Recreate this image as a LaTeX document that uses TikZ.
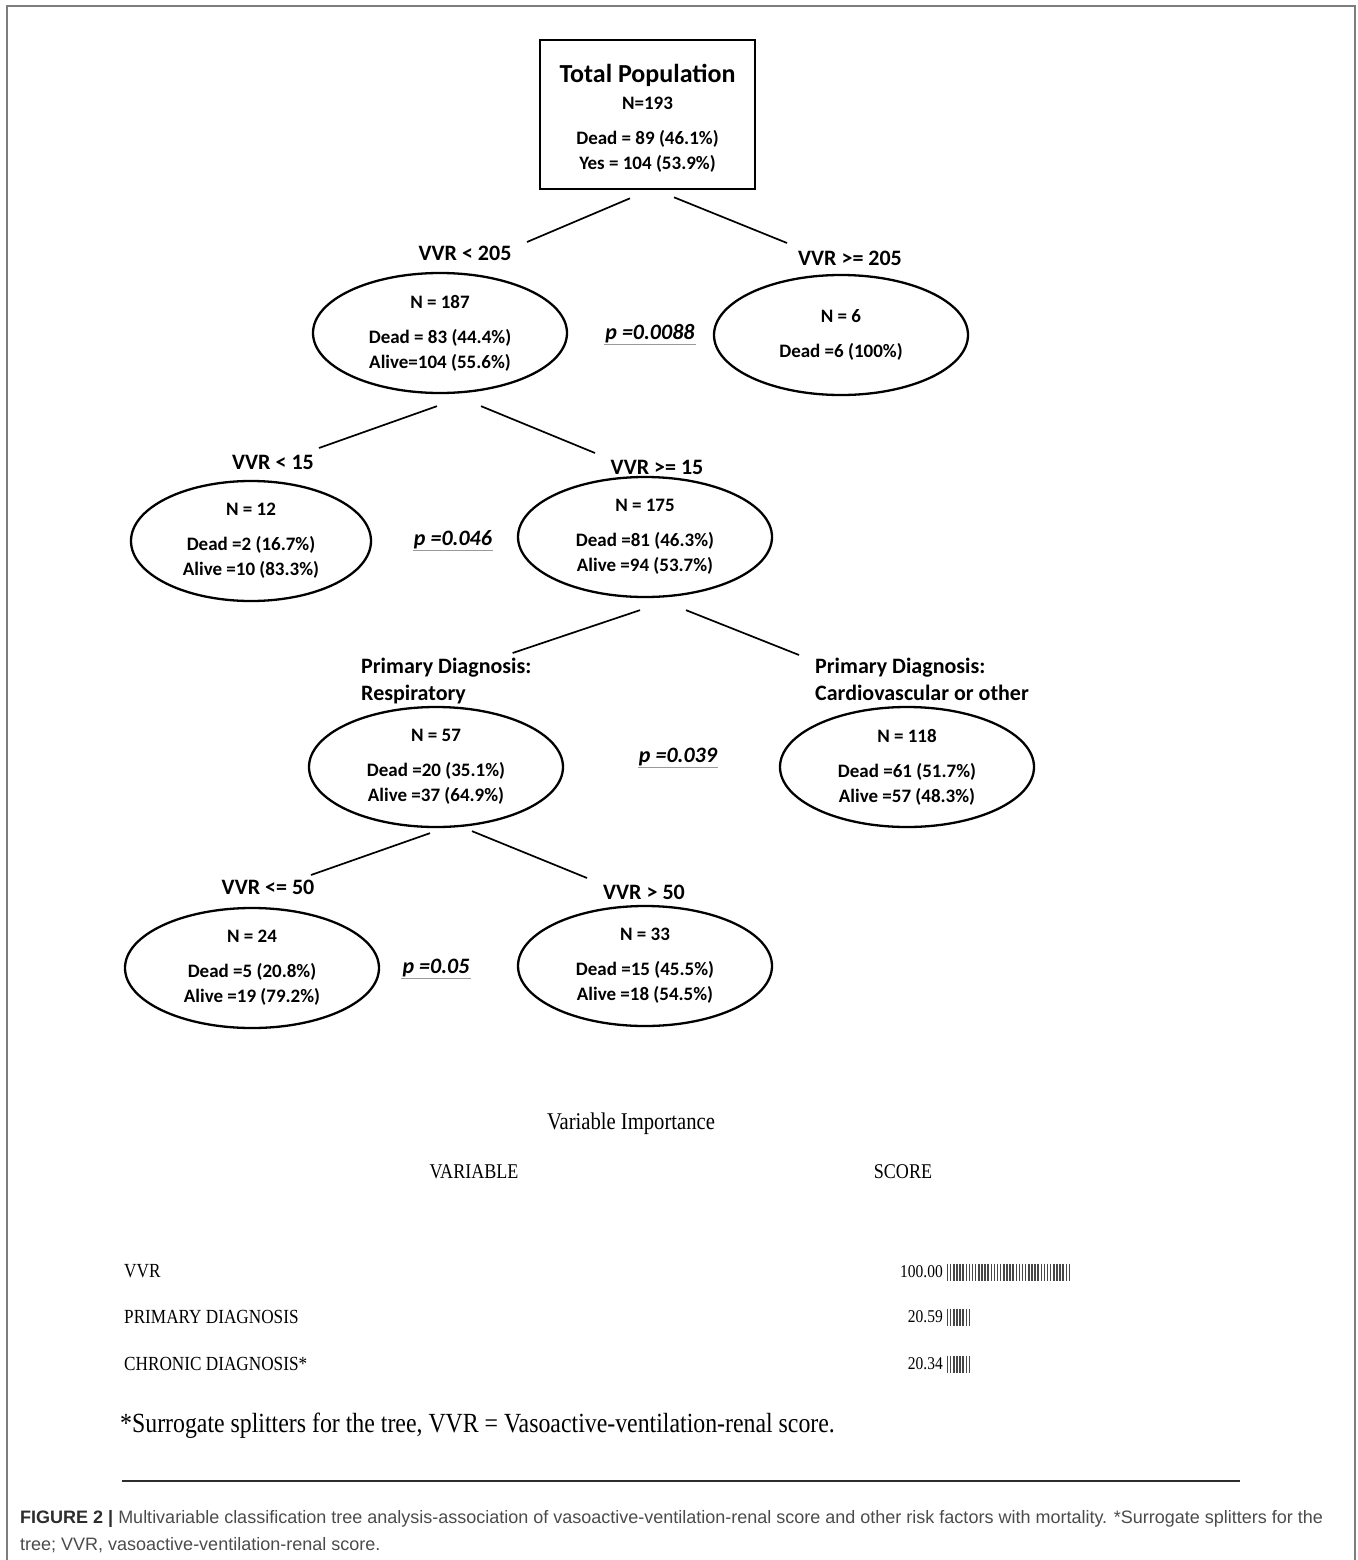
\documentclass[tikz,border=0pt]{standalone}
\usepackage{fontspec}
\usepackage{xcolor}
\definecolor{frame_gray}{RGB}{125,125,125}
\definecolor{rule_gray}{RGB}{45,45,45}
\definecolor{cap_gray}{RGB}{75,75,75}
\definecolor{bar_gray}{RGB}{70,70,70}
\newfontfamily\treefont{Carlito}
\newfontfamily\tabfont[FakeStretch=0.86]{Liberation Serif}
\newfontfamily\capfont{Liberation Sans}
\usetikzlibrary{shapes.geometric}

\begin{document}
\begin{tikzpicture}[x=1pt, y=-1pt,
  leaf/.style={ellipse, draw, line width=2.3pt, minimum width=254pt, minimum height=120pt,
    inner sep=0pt, align=center, font=\treefont\bfseries\fontsize{19}{25}\selectfont},
  split/.style={inner sep=0pt, font=\treefont\bfseries\fontsize{22}{27}\selectfont},
  pval/.style={inner sep=1pt, font=\treefont\bfseries\itshape\fontsize{22}{24}\selectfont},
  link/.style={line width=1.7pt},
  uline/.style={gray!80, line width=1pt},
  tab/.style={inner sep=0pt, font=\tabfont\fontsize{20}{22}\selectfont},
  score/.style={inner sep=0pt, anchor=east, font=\tabfont\fontsize{18}{20}\selectfont},
  bar/.style={bar_gray, line width=1.5pt}]
\useasboundingbox (0,0) rectangle (1357,1560);
\draw [frame_gray, line width=2pt] (7,1560) -- (7,6) -- (1355,6) -- (1355,1560);

% root
\node [draw, line width=2.6pt, minimum width=215pt, minimum height=149pt, align=center,
  font=\treefont\bfseries\fontsize{19}{25}\selectfont] (tot) at (647.5,114.5)
  {{\fontsize{26}{28}\selectfont\rule{0pt}{26pt}Total Population}\\[2pt] N=193\\[10pt]
   Dead = 89 (46.1\%)\\ Yes = 104 (53.9\%)};

% first split
\node [split] (lo205) at (465,253) {VVR < 205};
\node [split] (hi205) at (850,258) {VVR >= 205};
\node [leaf] (n187) at (440,333) {N = 187\\[10pt] Dead = 83 (44.4\%)\\ Alive=104 (55.6\%)};
\node [leaf] (n6) at (841,335) {N = 6\\[10pt] Dead =6 (100\%)};
\node [pval] (p1) at (650,334) {p =0.0088};
\draw [uline] (p1.south west) -- (p1.south east);
\draw [link] ([shift={(-17.5,8)}]tot.south) -- ([shift={(62,-11)}]lo205.center);
\draw [link] ([shift={(26.5,7)}]tot.south) -- ([shift={(-63,-15)}]hi205.center);

% second split
\node [split] (lo15) at (273,462) {VVR < 15};
\node [split] (hi15) at (657,467) {VVR >= 15};
\node [leaf, minimum width=240pt] (n12) at (251,541) {N = 12\\[10pt] Dead =2 (16.7\%)\\ Alive =10 (83.3\%)};
\node [leaf] (n175) at (645,537) {N = 175\\[10pt] Dead =81 (46.3\%)\\ Alive =94 (53.7\%)};
\node [pval] (p2) at (453,540) {p =0.046};
\draw [uline] (p2.south west) -- (p2.south east);
\draw [link] ([shift={(-3,12)}]n187.south) -- ([shift={(46,-14)}]lo15.center);
\draw [link] ([shift={(41,12)}]n187.south) -- ([shift={(-62,-14)}]hi15.center);

% third split
\node [split, align=left, anchor=north west] (resp) at (361,658) {Primary Diagnosis:\\Respiratory};
\node [split, align=left, anchor=north west] (card) at (815,658) {Primary Diagnosis:\\Cardiovascular or other};
\node [leaf] (n57) at (436,767) {N = 57\\[10pt] Dead =20 (35.1\%)\\ Alive =37 (64.9\%)};
\node [leaf] (n118) at (907,767) {N = 118\\[10pt] Dead =61 (51.7\%)\\ Alive =57 (48.3\%)};
\node [pval] (p3) at (678,757) {p =0.039};
\draw [uline] (p3.south west) -- (p3.south east);
\draw [link] ([shift={(-5,12)}]n175.south) -- ([shift={(-19,-5)}]resp.north east);
\draw [link] ([shift={(41,12)}]n175.south) -- ([shift={(-16,-3)}]card.north west);

% fourth split
\node [split] (lo50) at (268,887) {VVR <= 50};
\node [split] (hi50) at (644,892) {VVR > 50};
\node [leaf] (n24) at (252,968) {N = 24\\[10pt] Dead =5 (20.8\%)\\ Alive =19 (79.2\%)};
\node [leaf] (n33) at (645,966) {N = 33\\[10pt] Dead =15 (45.5\%)\\ Alive =18 (54.5\%)};
\node [pval] (p4) at (436,968) {p =0.05};
\draw [uline] (p4.south west) -- (p4.south east);
\draw [link] ([shift={(-6,5)}]n57.south) -- ([shift={(43,-12)}]lo50.center);
\draw [link] ([shift={(36,3)}]n57.south) -- ([shift={(-57,-14)}]hi50.center);

% variable importance
\node [tab, font=\tabfont\fontsize{24}{28}\selectfont] (vimp) at (631,1124) {Variable Importance};
\node [tab, font=\tabfont\fontsize{21}{24}\selectfont] (vhead) at (474,1172) {VARIABLE};
\node [tab, font=\tabfont\fontsize{21}{24}\selectfont] (shead) at (903,1172) {SCORE};
\node [tab, anchor=west] (vvvr) at (124,1271) {VVR};
\node [tab, anchor=west] (vprim) at (124,1317) {PRIMARY DIAGNOSIS};
\node [tab, anchor=west] (vchr) at (124,1364) {CHRONIC DIAGNOSIS*};
\node [score] (svvr) at (943,1272) {100.00};
\node [score] (sprim) at (943,1317) {20.59};
\node [score] (schr) at (943,1364) {20.34};
\foreach \sc/\nb in {svvr/20, sprim/4, schr/4} {
  \foreach \k in {1,...,\nb} {
    \draw [bar] ([shift={({4.5+6.25*(\k-1)},-8.5)}]\sc.east) -- ++(0,17);
    \draw [bar] ([shift={({7.5+6.25*(\k-1)},-8.5)}]\sc.east) -- ++(0,17);
  }
}
\node [tab, anchor=west, font=\tabfont\fontsize{27.7}{30}\selectfont] (fnote) at (120,1426)
  {*Surrogate splitters for the tree, VVR = Vasoactive-ventilation-renal score.};
\draw [rule_gray, line width=2.6pt] (122,1481) -- (1240,1481);

% caption
\node [anchor=north west, align=left, inner sep=0pt, text=cap_gray,
  font=\capfont\fontsize{18}{27}\selectfont] (cap) at (20,1510)
  {{\color{rule_gray}\bfseries FIGURE 2 |} Multivariable classification tree analysis-association of vasoactive-ventilation-renal score and other risk factors with mortality. *Surrogate splitters for the\\
   tree; VVR, vasoactive-ventilation-renal score.};
\end{tikzpicture}
\end{document}
